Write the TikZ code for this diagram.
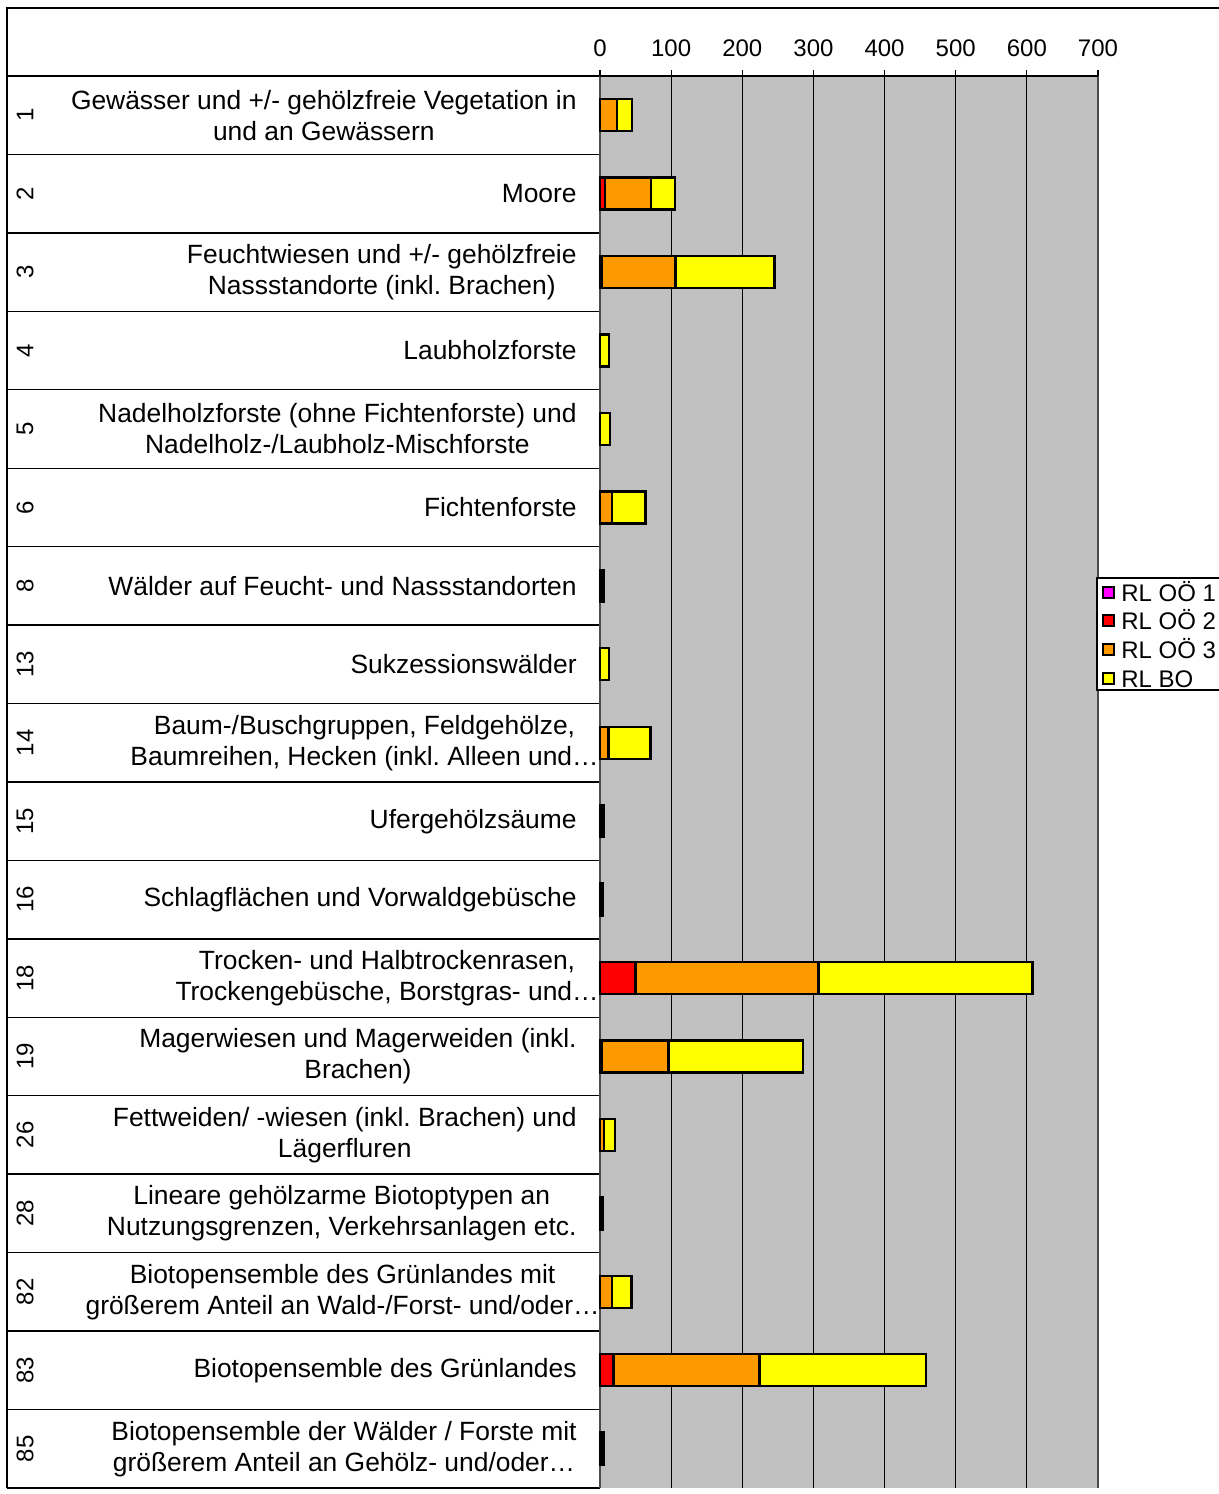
\documentclass[tikz,border=0pt]{standalone}
\usepackage{fontspec}
\setmainfont{Liberation Sans}
\frenchspacing
\definecolor{rlone}{HTML}{FF00FF}
\definecolor{rltwo}{HTML}{FF0000}
\definecolor{rlthree}{HTML}{FF9900}
\definecolor{rlbo}{HTML}{FFFF00}
\definecolor{plotbg}{HTML}{C0C0C0}
\begin{document}
\begin{tikzpicture}
    [x=0.5pt,y=-0.5pt,
     every node/.style={font=\fontsize{12}{15.5}\selectfont,inner sep=0pt},
     lab/.style={anchor=east,align=center,font=\fontsize{13.2}{15.5}\selectfont},
     num/.style={rotate=90},
     bar/.style={draw=black,line width=1.2pt},
     legkey/.style={draw=black,line width=1pt,minimum size=5.5pt}]
    \useasboundingbox (0,0) rectangle (1219,1494);
    % frame and table
    \draw[line width=0.7pt] (1219,8) -- (7,8) -- (7,1488);
    \foreach \k in {0,...,18}
    \draw[line width=0.7pt] (7,76+\k*78.44) -- (600,76+\k*78.44);
    % plot area
    \fill[plotbg] (600,76) rectangle (1098,1488);
    \foreach \i in {1,...,6}
    \draw[line width=0.6pt] (600+\i*71.14,76) -- (600+\i*71.14,1488);
    \draw[gray!60!black,line width=1pt] (600,76) -- (600,1488) (1098,76) -- (1098,1488);
    \draw[line width=0.7pt] (600,76) -- (1098,76);
    \foreach \i [evaluate=\i as \v using int(\i*100)] in {0,...,7}{
      \draw[line width=0.6pt] (600+\i*71.14,70) -- (600+\i*71.14,76);
      \node (t\i) at (600+\i*71.14,48) {\v};
    }
    % bars
    \foreach \k/\va/\vb/\vc/\vd in {0/0/0/24/21, 1/0/7/65/33, 2/0/3/103/139,
      3/0/0/0/13, 4/0/0/0/14, 5/0/0/17/47, 6/0/0/2/4, 7/0/0/0/13, 8/0/0/12/59,
      9/0/0/1/4, 10/0/0/1/3, 11/0/50/257/301, 12/3/0/93/189, 13/0/0/6/15,
      14/0/0/1/3, 15/0/0/17/27, 16/0/19/205/234, 17/0/0/1/4}{
      \pgfmathsetmacro{\yc}{115.2+\k*78.44}
      \pgfmathsetmacro{\xa}{600+\va*0.7114}
      \pgfmathsetmacro{\xb}{\xa+\vb*0.7114}
      \pgfmathsetmacro{\xc}{\xb+\vc*0.7114}
      \pgfmathsetmacro{\xd}{\xc+\vd*0.7114}
      \foreach \lo/\hi/\col in {600/\xa/rlone,\xa/\xb/rltwo,\xb/\xc/rlthree,\xc/\xd/rlbo}{
        \ifdim\lo pt<\hi pt
          \draw[bar,fill=\col] (\lo,\yc-16) rectangle (\hi,\yc+16);
        \fi
      }
    }
    % row numbers
    \foreach \num [count=\k from 0] in {1,2,3,4,5,6,8,13,14,15,16,18,19,26,28,82,83,85}
    \node[num] (n\num) at (25,115.2+\k*78.44) {\num};
    % row labels
    \node[lab] (l1) at (577,115.2) {Gewässer und +/- gehölzfreie Vegetation in\\und an Gewässern};
    \node[lab] (l2) at (577,193.6) {Moore};
    \node[lab] (l3) at (577,272.1) {Feuchtwiesen und +/- gehölzfreie\\Nassstandorte (inkl. Brachen)};
    \node[lab] (l4) at (577,350.5) {Laubholzforste};
    \node[lab] (l5) at (577,429.0) {Nadelholzforste (ohne Fichtenforste) und\\Nadelholz-/Laubholz-Mischforste};
    \node[lab] (l6) at (577,507.4) {Fichtenforste};
    \node[lab] (l8) at (577,585.8) {Wälder auf Feucht- und Nassstandorten};
    \node[lab] (l13) at (577,664.3) {Sukzessionswälder};
    \node[lab] (l14) at (599,742.7) {Baum-/Buschgruppen, Feldgehölze,\\Baumreihen, Hecken (inkl. Alleen und…};
    \node[lab] (l15) at (577,821.2) {Ufergehölzsäume};
    \node[lab] (l16) at (577,899.6) {Schlagflächen und Vorwaldgebüsche};
    \node[lab] (l18) at (599,978.0) {Trocken- und Halbtrockenrasen,\\Trockengebüsche, Borstgras- und…};
    \node[lab] (l19) at (577,1056.5) {Magerwiesen und Magerweiden (inkl.\\Brachen)};
    \node[lab] (l26) at (577,1134.9) {Fettweiden/ -wiesen (inkl. Brachen) und\\Lägerfluren};
    \node[lab] (l28) at (577,1213.4) {Lineare gehölzarme Biotoptypen an\\Nutzungsgrenzen, Verkehrsanlagen etc.};
    \node[lab] (l82) at (600,1291.8) {Biotopensemble des Grünlandes mit\\größerem Anteil an Wald-/Forst- und/oder…};
    \node[lab] (l83) at (577,1370.2) {Biotopensemble des Grünlandes};
    \node[lab] (l85) at (577,1448.7) {Biotopensemble der Wälder / Forste mit\\größerem Anteil an Gehölz- und/oder…};
    % legend
    \draw[fill=white,line width=0.6pt] (1097,578) rectangle (1230,690);
    \foreach \col/\txt [count=\j from 0] in {rlone/RL OÖ 1,rltwo/RL OÖ 2,rlthree/RL OÖ 3,rlbo/RL BO}{
      \node[legkey,fill=\col] (k\j) at (1108,592+\j*28.7) {};
      \node[anchor=base west] (e\j) at (1121,601+\j*28.7) {\txt};
    }
\end{tikzpicture}
\end{document}
